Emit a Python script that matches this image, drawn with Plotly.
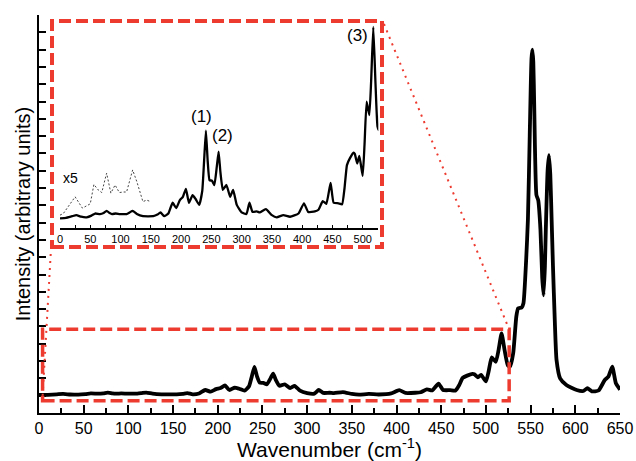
import plotly.graph_objects as go

# ---------------- data ----------------
wavenumber = [0, 10, 20, 27, 35, 44, 52, 58, 66, 72, 77, 82, 86, 92, 99, 110, 115, 120, 127,
              137, 154, 161, 166, 172, 179, 186, 192, 198, 203, 208, 213, 219, 224, 230, 235,
              238, 241, 244, 247, 251, 255, 259, 262, 265, 269, 275, 281, 286, 292, 300, 308,
              313, 318, 325, 330, 340, 350, 358, 369, 380, 394, 403, 410, 421, 427, 434, 440,
              447, 452, 460, 466, 470, 474, 479, 485, 487, 491, 494.5, 500, 503, 506.5, 511,
              514, 517.5, 521, 524.5, 527, 530.5, 534, 536, 540, 542, 545, 547, 549, 551, 552,
              553, 554, 556.5, 558.5, 561, 563, 564.5, 566, 567, 569, 570.5, 572, 573.5, 575,
              577, 579, 583, 590, 601.5, 609, 613.5, 618.5, 626, 633, 637, 641.3, 645.4, 649, 650]
intensity = [1.04, 1.05, 1.08, 1.10, 1.07, 1.06, 1.09, 1.13, 1.12, 1.14, 1.18, 1.14, 1.12, 1.13,
             1.12, 1.12, 1.15, 1.18, 1.12, 1.08, 1.08, 1.11, 1.15, 1.08, 1.13, 1.33, 1.23, 1.38,
             1.44, 1.59, 1.33, 1.47, 1.40, 1.29, 1.55, 2.10, 2.67, 2.10, 1.75, 1.74, 1.66, 2.00,
             2.28, 1.90, 1.57, 1.66, 1.44, 1.57, 1.29, 1.15, 1.12, 1.33, 1.16, 1.17, 1.15, 1.21,
             1.10, 1.06, 1.10, 1.07, 1.13, 1.32, 1.16, 1.17, 1.20, 1.36, 1.31, 1.70, 1.33, 1.32,
             1.30, 1.60, 2.03, 2.16, 2.26, 2.24, 2.06, 2.20, 1.83, 2.40, 3.21, 2.96, 3.60, 4.60,
             3.60, 2.75, 2.68, 3.45, 5.57, 6.05, 6.10, 6.34, 8.84, 11.2, 16.0, 20.5, 21.0, 20.3,
             17.9, 12.6, 12.3, 10.6, 7.8, 6.8, 8.5, 10.6, 14.0, 14.9, 13.8, 11.2, 8.5, 5.4, 3.06,
             2.0, 1.62, 1.33, 1.27, 1.43, 1.25, 1.30, 1.91, 2.10, 2.68, 1.72, 1.43, 1.35]

# x5 magnified low-wavenumber trace (inset)
x5_wavenumber = [0, 5.5, 25, 37, 50, 56, 63, 69, 77, 84, 91, 98, 105, 110, 120, 127, 137, 143, 150]
x5_intensity = [1.10, 1.13, 1.44, 1.23, 1.31, 1.67, 1.57, 1.52, 1.88, 1.51, 1.66, 1.52, 1.53,
                1.53, 1.94, 1.72, 1.35, 1.38, 1.35]

main_xticks = list(range(0, 651, 50))
inset_xticks = list(range(0, 501, 50))
peak_labels = ["(1)", "(2)", "(3)"]

RED = "#EE3B30"

# plot-area pixel geometry (636x461 page)
L, R, T, B = 39, 16, 15, 48
PW = 636 - L - R
PH = 461 - T - B


def px(x):
    return (x - L) / PW


def py(y):
    return (461 - B - y) / PH


fig = go.Figure()

fig.add_trace(go.Scatter(x=wavenumber, y=intensity, mode="lines",
                         line=dict(color="black", width=3.8, shape="spline", smoothing=0.5),
                         xaxis="x", yaxis="y", showlegend=False, hoverinfo="skip"))
fig.add_trace(go.Scatter(x=wavenumber, y=intensity, mode="lines",
                         line=dict(color="black", width=2.3, shape="spline", smoothing=0.4),
                         xaxis="x2", yaxis="y2", showlegend=False, hoverinfo="skip"))
fig.add_trace(go.Scatter(x=x5_wavenumber, y=x5_intensity, mode="lines",
                         line=dict(color="#444444", width=1, dash="2px,2px"), xaxis="x2", yaxis="y2",
                         showlegend=False, hoverinfo="skip"))

font_family = "Liberation Sans, Arial, sans-serif"

fig.update_layout(
    width=636, height=461,
    margin=dict(l=L, r=R, t=T, b=B, pad=0, autoexpand=False),
    paper_bgcolor="white", plot_bgcolor="white",
    font=dict(family=font_family, color="black"),
    xaxis=dict(range=[0, 650], domain=[0, 1], tickvals=main_xticks,
               ticktext=[str(v) for v in main_xticks], automargin=False,
               showline=True, linecolor="black", linewidth=2, mirror=False,
               ticks="inside", ticklen=8, tickwidth=1.5, tickcolor="black",
               minor=dict(dtick=25, tick0=0, ticks="inside", ticklen=5, tickwidth=1.5, tickcolor="black"),
               tickfont=dict(size=16), ticklabelstandoff=0, showgrid=False, zeroline=False,
               title=dict(text="Wavenumber (cm<sup>-1</sup>)", font=dict(size=21), standoff=10)),
    yaxis=dict(range=[0, 23], domain=[0, 1], dtick=1, tick0=0, showticklabels=False,
               showline=True, linecolor="black", linewidth=2, automargin=False,
               ticks="inside", ticklen=7, tickwidth=1.5, tickcolor="black",
               showgrid=False, zeroline=False,
               title=dict(text="Intensity (arbitrary units)", font=dict(size=20), standoff=1)),
    xaxis2=dict(range=[0, 525.8], domain=[px(60), px(378.3)], anchor="y2", automargin=False,
                tickvals=inset_xticks, ticktext=[str(v) for v in inset_xticks],
                showline=True, linecolor="black", linewidth=1.5,
                ticks="inside", ticklen=4, tickwidth=1, tickcolor="black",
                minor=dict(dtick=25, tick0=0, ticks="inside", ticklen=4, tickwidth=1, tickcolor="black"),
                tickfont=dict(size=11), showgrid=False, zeroline=False),
    yaxis2=dict(range=[0.855, 4.71], domain=[py(228.3), py(21)], anchor="x2", automargin=False,
                visible=False, showgrid=False, zeroline=False),
)

shapes = [
    # main zoom rectangle (data coordinates)
    dict(type="rect", xref="x", yref="y", x0=4, x1=526, y0=0.71, y1=4.84,
         line=dict(color=RED, width=3.5, dash="12px,5px"), layer="above"),
    # inset frame
    dict(type="rect", xref="paper", yref="paper", x0=px(52), x1=px(382), y0=py(247), y1=py(21),
         line=dict(color=RED, width=4, dash="12px,5px"), layer="above"),
    # connector lines
    dict(type="line", xref="paper", yref="paper", x0=px(384), y0=py(24), x1=px(509), y1=py(329),
         line=dict(color=RED, width=2, dash="2px,5px"), layer="above"),
    dict(type="line", xref="paper", yref="paper", x0=px(51.5), y0=py(240), x1=px(42.5), y1=py(398),
         line=dict(color=RED, width=2, dash="2px,5px"), layer="above"),
]
fig.update_layout(shapes=shapes)

ann_pos = [(201.7, 116.7), (222.7, 135), (357.3, 35)]
annotations = []
for txt, (ax, ay) in zip(peak_labels, ann_pos):
    annotations.append(dict(text=txt, x=px(ax), y=py(ay), xref="paper", yref="paper",
                            showarrow=False, font=dict(size=17), xanchor="center", yanchor="middle"))
annotations.append(dict(text="x5", x=px(70.7), y=py(177.7), xref="paper", yref="paper",
                        showarrow=False, font=dict(size=14), xanchor="center", yanchor="middle"))
fig.update_layout(annotations=annotations)

fig.write_html("out.html")
